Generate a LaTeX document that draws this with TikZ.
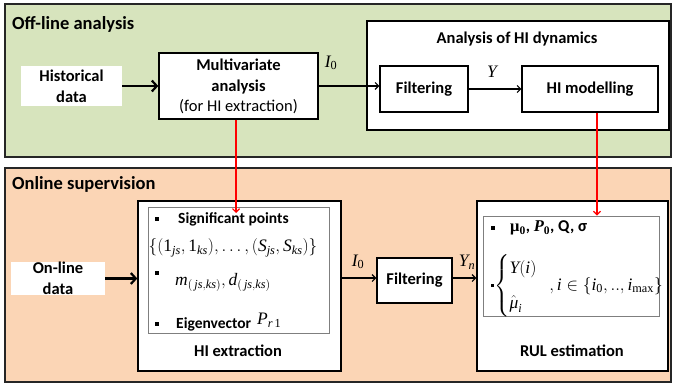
\documentclass[tikz,border=0pt]{standalone}
\usepackage{amsmath}
\usepackage{fontspec}
\setmainfont{Carlito}
\newfontfamily\tms{Liberation Serif}
\usetikzlibrary{arrows.meta,calc}

% Times-like letters inside formulas
\newcommand\tv[1]{\text{\tms\itshape #1}}
\newcommand\tn[1]{\text{\tms #1}}

\definecolor{offgreen}{HTML}{D7E4BD}
\definecolor{onpeach}{HTML}{FBD5B5}
\definecolor{edgegray}{HTML}{7F7F7F}

\tikzset{
  panel/.style={draw=black!85, line width=1.8pt, inner sep=0pt},
  block/.style={draw=black, line width=1.4pt, fill=white, inner sep=0pt, align=center,
                font=\fontsize{16.5}{21}\selectfont\bfseries},
  plainbox/.style={fill=white, inner sep=0pt, align=center,
                font=\fontsize{16.5}{21}\selectfont\bfseries},
  innerbox/.style={draw=edgegray, line width=0.9pt, inner sep=0pt},
  title/.style={anchor=west, inner sep=0pt, font=\fontsize{18.5}{20}\selectfont\bfseries},
  caption/.style={inner sep=0pt, font=\fontsize{16.5}{18}\selectfont\bfseries},
  sym/.style={inner sep=0pt, font=\fontsize{17.5}{20}\selectfont},
  bullet/.style={fill=black, minimum size=3.6pt, inner sep=0pt},
  thickarrow/.style={line width=2.6pt, -{Straight Barb[length=5pt,width=11pt,line width=2.2pt]}},
  thinarrow/.style={line width=1.1pt, -{Straight Barb[length=3.5pt,width=7pt,line width=1.1pt]}},
  redarrow/.style={draw=red, line width=1.2pt, -{Straight Barb[length=3.5pt,width=7pt,line width=1.2pt]}},
}

\begin{document}
\begin{tikzpicture}[x=1pt,y=-1pt]
  \useasboundingbox (0,0) rectangle (674,385);

  % background panels
  \node[panel, fill=offgreen, minimum width=666pt, minimum height=153pt] (offpanel) at (338,80.5) {};
  \node[panel, fill=onpeach, minimum width=666pt, minimum height=214pt] (onpanel) at (338,275) {};
  \node[title] (offtitle) at (12,24) {Off-line analysis};
  \node[title] (ontitle) at (12,184) {Online supervision};

  % off-line chain
  \node[plainbox, minimum width=101pt, minimum height=40pt] (hist) at (71.5,86) {Historical\\data};
  \node[block, minimum width=159pt, minimum height=66pt] (multi) at (238.5,86)
    {Multivariate\\analysis\\[-1pt]{\mdseries (for HI extraction)}};
  \node[block, minimum width=302pt, minimum height=109pt] (dyn) at (518,75.5) {};
  \node[caption] (dyntitle) at (517,39) {Analysis of HI dynamics};
  \node[block, minimum width=88pt, minimum height=46pt] (filtA) at (424,89) {Filtering};
  \node[block, minimum width=136pt, minimum height=46pt] (himod) at (590,89) {HI modelling};

  \draw[thickarrow] (hist.east) -- (multi.west);
  \draw[thinarrow] (multi.east) -- (multi.east -| filtA.west);
  \draw[thinarrow] (filtA.east) -- (himod.west);
  \node[sym] (lblI0a) at (331,63) {$\tv{I}_{\tn{0}}$};
  \node[sym] (lblY) at (492,72) {$\tv{Y}$};

  % online chain
  \node[plainbox, minimum width=94pt, minimum height=33pt] (online) at (58,278.5) {On-line\\data};
  \node[block, minimum width=203pt, minimum height=170pt] (hiext) at (239.5,286) {};
  \node[innerbox, minimum width=181pt, minimum height=126pt] (hiin) at (238.5,270) {};
  \node[caption] (hiextcap) at (238,351) {HI extraction};

  \node[block, minimum width=75pt, minimum height=45pt] (filtB) at (414.5,280.5) {Filtering};
  \node[block, minimum width=191pt, minimum height=170pt] (rul) at (572.5,286) {};
  \node[innerbox, minimum width=176pt, minimum height=100pt] (rulin) at (571,266) {};
  \node[caption] (rulcap) at (572,351) {RUL estimation};

  % HI extraction contents
  \node[bullet] (b1) at (157,219) {};
  \node[anchor=west, inner sep=0pt, font=\fontsize{15.5}{17}\selectfont\bfseries] (sigpts) at (178,219) {Significant points};
  \node[sym] (setS) at (233,248)
    {$\{(\tn{1}_{\tv{js}},\tn{1}_{\tv{ks}}),\ldots,(\tv{S}_{\tv{js}},\tv{S}_{\tv{ks}})\}$};
  \node[bullet] (b2) at (157,273) {};
  \node[sym, anchor=west] (mdform) at (175,282)
    {$\tv{m}_{(\,\tv{js},\tv{ks})},\tv{d}_{(\,\tv{js},\tv{ks})}$};
  \node[bullet] (b3) at (157,324) {};
  \node[anchor=west, inner sep=0pt, font=\fontsize{15.5}{17}\selectfont\bfseries] (eigen) at (176,324) {Eigenvector};
  \node[sym, anchor=west] (prone) at (257,320) {$\tv{P}_{\tv{r}\,\tn{1}}$};

  % RUL estimation contents
  \node[bullet] (b4) at (493,228) {};
  \node[anchor=west, inner sep=0pt, font=\fontsize{16.5}{18}\selectfont\bfseries] (params) at (510,228)
    {{\tms μ}$_{\tn{0}}$, $\tv{P}_{\tn{0}}$, Q, σ};
  \node[bullet, minimum size=3pt] (b5) at (492,285) {};
  \node[sym, anchor=west] (cases) at (494,286)
    {$\begin{cases} \tv{Y}(\tv{i})\\[11pt] \hat{\tv{μ}}_{\tv{i}}\end{cases}\!\!\!, \tv{i}\in\{\tv{i}_{\tn{0}},..,\tv{i}_{\tn{max}}\}$};

  \coordinate (yline) at (0,278);
  \draw[thickarrow] (online.east) -- (online.east -| hiext.west);
  \draw[thinarrow] (hiext.east |- yline) -- (filtB.west |- yline);
  \draw[thinarrow] (filtB.east |- yline) -- (rul.west |- yline);
  \node[sym] (lblI0b) at (358,262) {$\tv{I}_{\tn{0}}$};
  \node[sym] (lblYn) at (467,262) {$\tv{Y}_{\tv{n}}$};

  % links from off-line results to online blocks
  \coordinate (redA) at (236,213);
  \coordinate (redB) at (597,0);
  \draw[redarrow] (multi.south -| redA) -- (redA);
  \draw[redarrow] (himod.south -| redB) -- (rulin.north -| redB);
\end{tikzpicture}
\end{document}
